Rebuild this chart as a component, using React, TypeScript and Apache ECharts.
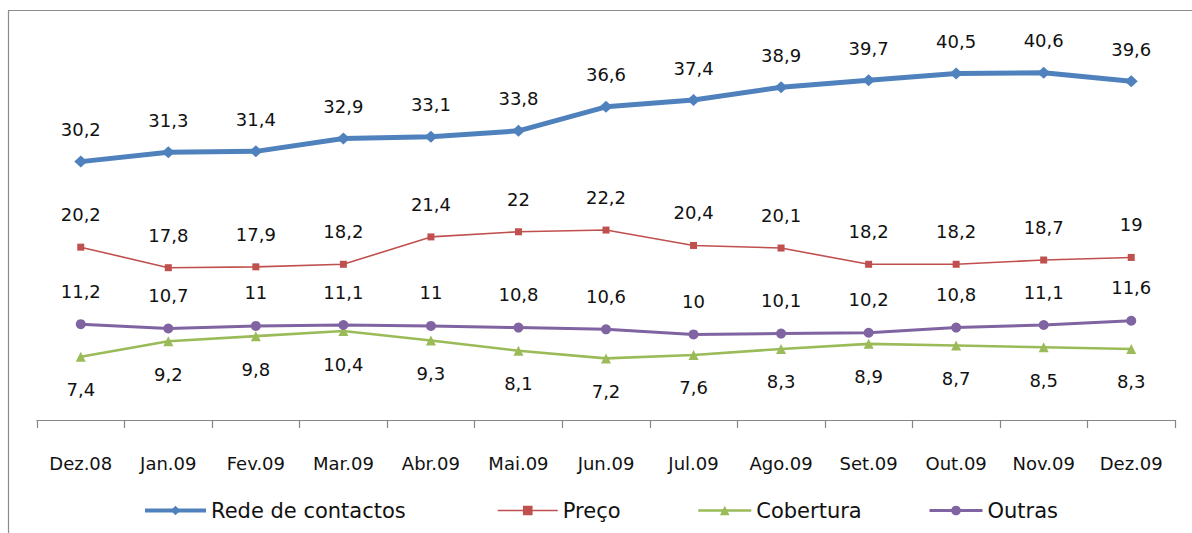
import React, { useEffect, useRef } from "react";
import * as echarts from "echarts";

const categories = ["Dez.08", "Jan.09", "Fev.09", "Mar.09", "Abr.09", "Mai.09", "Jun.09", "Jul.09", "Ago.09", "Set.09", "Out.09", "Nov.09", "Dez.09"];
const rede = [30.2, 31.3, 31.4, 32.9, 33.1, 33.8, 36.6, 37.4, 38.9, 39.7, 40.5, 40.6, 39.6];
const preco = [20.2, 17.8, 17.9, 18.2, 21.4, 22, 22.2, 20.4, 20.1, 18.2, 18.2, 18.7, 19];
const cobertura = [7.4, 9.2, 9.8, 10.4, 9.3, 8.1, 7.2, 7.6, 8.3, 8.9, 8.7, 8.5, 8.3];
const outras = [11.2, 10.7, 11, 11.1, 11, 10.8, 10.6, 10, 10.1, 10.2, 10.8, 11.1, 11.6];
const seriesNames = ["Rede de contactos", "Preço", "Cobertura", "Outras"];

const FONT = "DejaVu Sans";
const fmt = (p: any) => String(p.value).replace(".", ",");

export default function App() {
  const ref = useRef<HTMLDivElement>(null);
  useEffect(() => {
    document.body.style.margin = "0";
    const chart = echarts.init(ref.current!, null, { renderer: "svg" });
    const label = (pos: string, dist: number) => ({
      show: true,
      position: pos,
      distance: dist,
      formatter: fmt,
      color: "#111",
      fontFamily: FONT,
      fontSize: 18,
    });
    const legendBase = {
      top: 500,
      padding: 0,
      itemHeight: 12,
      itemGap: 0,
      textStyle: { fontFamily: FONT, fontSize: 21, color: "#111" },
    };
    chart.setOption({
      animation: false,
      graphic: [
        {
          type: "rect",
          shape: { x: 8.5, y: 10.5, width: 1300, height: 700 },
          style: { fill: "none", stroke: "#8c8c8c", lineWidth: 1.2 },
          silent: true,
        },
      ],
      legend: [
        { ...legendBase, left: 143, itemWidth: 61, lineStyle: { width: 4 }, data: [seriesNames[0]] },
        { ...legendBase, left: 497, itemWidth: 60, lineStyle: { width: 1.5 }, data: [seriesNames[1]] },
        { ...legendBase, left: 697, itemWidth: 53, lineStyle: { width: 2.5 }, data: [seriesNames[2]] },
        { ...legendBase, left: 928, itemWidth: 53, lineStyle: { width: 3 }, data: [seriesNames[3]] },
      ],
      grid: { left: 37, right: 17, top: 35, bottom: 113 },
      xAxis: {
        type: "category",
        data: categories,
        boundaryGap: true,
        axisLine: { show: true, lineStyle: { color: "#868686", width: 1.2 } },
        axisTick: { show: true, length: 8, lineStyle: { color: "#868686", width: 1.2 } },
        axisLabel: { margin: 34, color: "#111", fontFamily: FONT, fontSize: 18 },
      },
      yAxis: {
        type: "value",
        min: 0,
        max: 45,
        show: false,
        splitLine: { show: false },
      },
      series: [
        {
          name: seriesNames[0],
          type: "line",
          data: rede,
          color: "#4F81BD",
          lineStyle: { width: 5, color: "#4F81BD" },
          symbol: "diamond",
          symbolSize: [13, 12],
          label: label("top", 17),
          z: 4,
        },
        {
          name: seriesNames[1],
          type: "line",
          data: preco,
          color: "#C0504D",
          lineStyle: { width: 1.6, color: "#C0504D" },
          symbol: "rect",
          symbolSize: 7,
          label: label("top", 20),
          z: 3,
        },
        {
          name: seriesNames[2],
          type: "line",
          data: cobertura,
          color: "#9BBB59",
          lineStyle: { width: 2.6, color: "#9BBB59" },
          symbol: "triangle",
          symbolSize: 10,
          label: label("bottom", 19),
          z: 2,
        },
        {
          name: seriesNames[3],
          type: "line",
          data: outras,
          color: "#8064A2",
          lineStyle: { width: 3, color: "#8064A2" },
          symbol: "circle",
          symbolSize: 10,
          label: label("top", 19),
          z: 2,
        },
      ],
    });
    return () => chart.dispose();
  }, []);
  return <div ref={ref} style={{ width: 1192, height: 533 }} />;
}
